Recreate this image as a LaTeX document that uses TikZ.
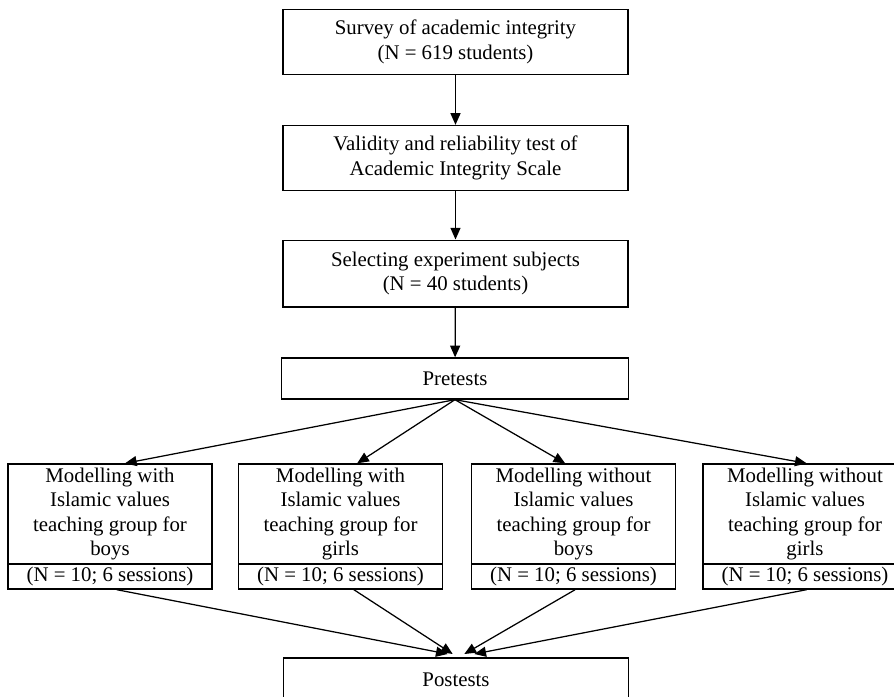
\documentclass[tikz,border=0pt]{standalone}
\usepackage{fontspec}
\setmainfont{Liberation Serif}
\usetikzlibrary{arrows.meta}
\tikzset{
  box/.style={draw, line width=0.8pt, align=center, inner sep=0pt,
    font=\fontsize{12.5}{14.6}\selectfont},
  wide/.style={box, minimum width=207pt, minimum height=39pt},
  grp/.style={box, minimum width=122.4pt, minimum height=60pt},
  cnt/.style={box, minimum width=122.4pt, minimum height=15pt},
  arr/.style={line width=0.75pt, -{Triangle[length=7pt,width=6pt]}}
}
\begin{document}
\begin{tikzpicture}[x=0.6pt,y=-0.6pt]
\useasboundingbox (0,0) rectangle (894,697);
\node[wide] (survey) at (455.5,42) {Survey of academic integrity\\(N = 619 students)};
\node[wide] (validity) at (455.5,158) {Validity and reliability test of\\Academic Integrity Scale};
\node[wide, minimum height=40pt] (selecting) at (455.5,273.5) {Selecting experiment subjects\\(N = 40 students)};
\node[wide, minimum width=208pt, minimum height=24.6pt] (pretests) at (455,378.5) {Pretests};
% groups
\node[grp] (g1) at (110,514) {Modelling with\\Islamic values\\teaching group for\\boys};
\node[cnt] (n1) at (110,576.5) {(N = 10; 6 sessions)};
\node[grp] (g2) at (340.5,514) {Modelling with\\Islamic values\\teaching group for\\girls};
\node[cnt] (n2) at (340.5,576.5) {(N = 10; 6 sessions)};
\node[grp] (g3) at (573.5,514) {Modelling without\\Islamic values\\teaching group for\\boys};
\node[cnt] (n3) at (573.5,576.5) {(N = 10; 6 sessions)};
\node[grp] (g4) at (805,514) {Modelling without\\Islamic values\\teaching group for\\girls};
\node[cnt] (n4) at (805,576.5) {(N = 10; 6 sessions)};
\node[wide, minimum height=26.4pt] (postests) at (456,680) {Postests};
% arrows
\draw[arr] (survey) -- (validity);
\draw[arr] (validity) -- (selecting);
\draw[arr] (selecting) -- (pretests);
\draw[arr] (pretests.south) -- ([xshift=9pt]g1.north);
\draw[arr] (pretests.south) -- ([xshift=10pt]g2.north);
\draw[arr] (pretests.south) -- ([xshift=-5pt]g3.north);
\draw[arr] (pretests.south) -- ([xshift=1pt]g4.north);
\draw[arr] ([xshift=4pt]n1.south) -- ([xshift=-5pt,yshift=2pt]postests.north);
\draw[arr] ([xshift=8pt]n2.south) -- ([xshift=-2pt,yshift=2pt]postests.north);
\draw[arr] ([xshift=1pt]n3.south) -- ([xshift=5pt,yshift=2pt]postests.north);
\draw[arr] ([xshift=1pt]n4.south) -- ([xshift=11pt,yshift=2pt]postests.north);
\end{tikzpicture}
\end{document}
